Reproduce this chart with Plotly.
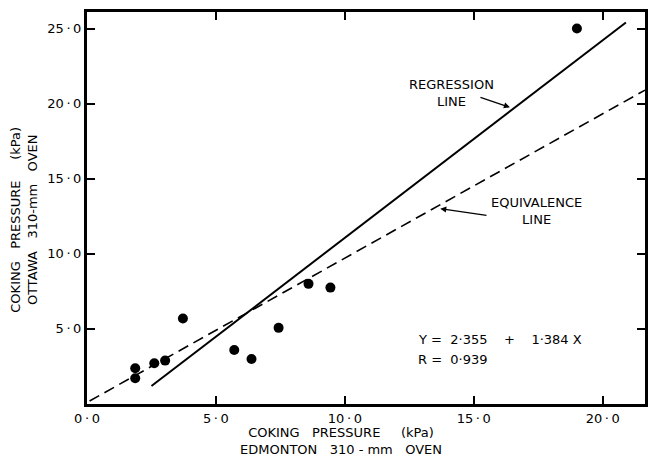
import plotly.graph_objects as go

# Data
edmonton_x = [1.87, 1.87, 2.61, 3.03, 3.72, 5.71, 6.38, 7.43, 8.59, 9.44, 19.0]
ottawa_y = [2.38, 1.71, 2.71, 2.89, 5.69, 3.60, 3.00, 5.07, 8.00, 7.75, 25.0]

regression_x = [2.5, 20.9]
regression_y = [1.2, 25.4]

equivalence_x = [0.1, 21.64]
equivalence_y = [0.2, 20.9]

x_ticks = [0, 5, 10, 15, 20]
x_tick_text = ["0\u2009·\u20090", "5\u2009·\u20090", "10\u2009·\u20090", "15\u2009·\u20090", "20\u2009·\u20090"]
y_ticks = [5, 10, 15, 20, 25]
y_tick_text = ["5\u2009·\u20090", "10\u2009·\u20090", "15\u2009·\u20090", "20\u2009·\u20090", "25\u2009·\u20090"]

FONT = "DejaVu Sans"
FS = 13

fig = go.Figure()
fig.add_trace(go.Scatter(x=regression_x, y=regression_y, mode="lines",
                         line=dict(color="black", width=2), showlegend=False))
fig.add_trace(go.Scatter(x=equivalence_x, y=equivalence_y, mode="lines",
                         line=dict(color="black", width=1.6, dash="11px,6px"), showlegend=False))
fig.add_trace(go.Scatter(x=edmonton_x, y=ottawa_y, mode="markers",
                         marker=dict(color="black", size=10), showlegend=False))

axis_common = dict(showgrid=False, zeroline=False, showline=True, linecolor="black",
                   linewidth=3, mirror="ticks", ticks="inside", ticklen=8, tickwidth=1.5,
                   tickcolor="black", tickfont=dict(family=FONT, size=FS, color="black"))

fig.update_xaxes(range=[0, 21.64], tickvals=x_ticks, ticktext=x_tick_text, **axis_common)
fig.update_yaxes(range=[0, 26.1], tickvals=y_ticks, ticktext=y_tick_text, **axis_common)

def txt(**kw):
    d = dict(showarrow=False, font=dict(family=FONT, size=FS, color="black"))
    d.update(kw)
    return d

annotations = [
    txt(x=0.455, y=-0.094, xref="paper", yref="paper", xanchor="center", yanchor="middle",
        align="center",
        text="COKING   PRESSURE     (kPa)<br>EDMONTON   310 - mm   OVEN"),
    txt(x=-0.113, y=0.47, xref="paper", yref="paper", textangle=-90, xanchor="center", yanchor="middle",
        align="center",
        text="COKING   PRESSURE     (kPa)<br>OTTAWA   310-mm   OVEN"),
    txt(x=14.15, y=20.7, xref="x", yref="y", align="center", text="REGRESSION<br>LINE"),
    dict(x=16.4, y=19.75, ax=15.2, ay=20.45, xref="x", yref="y", axref="x", ayref="y",
         showarrow=True, arrowhead=2, arrowsize=1, arrowwidth=1.2, arrowcolor="black", text=""),
    txt(x=17.45, y=12.85, xref="x", yref="y", align="center", text="EQUIVALENCE<br>LINE"),
    dict(x=13.7, y=13.0, ax=15.55, ay=12.55, xref="x", yref="y", axref="x", ayref="y",
         showarrow=True, arrowhead=2, arrowsize=1, arrowwidth=1.2, arrowcolor="black", text=""),
    txt(x=12.74, y=4.27, xref="x", yref="y", xanchor="left",
        text="Y =  2·355    +    1·384 X"),
    txt(x=12.74, y=2.93, xref="x", yref="y", xanchor="left",
        text="R =  0·939"),
]

fig.update_layout(width=655, height=459, margin=dict(l=87, r=7, t=12, b=55),
                  plot_bgcolor="white", paper_bgcolor="white", annotations=annotations,
                  font=dict(family=FONT, color="black"))

fig.write_html("out.html")
